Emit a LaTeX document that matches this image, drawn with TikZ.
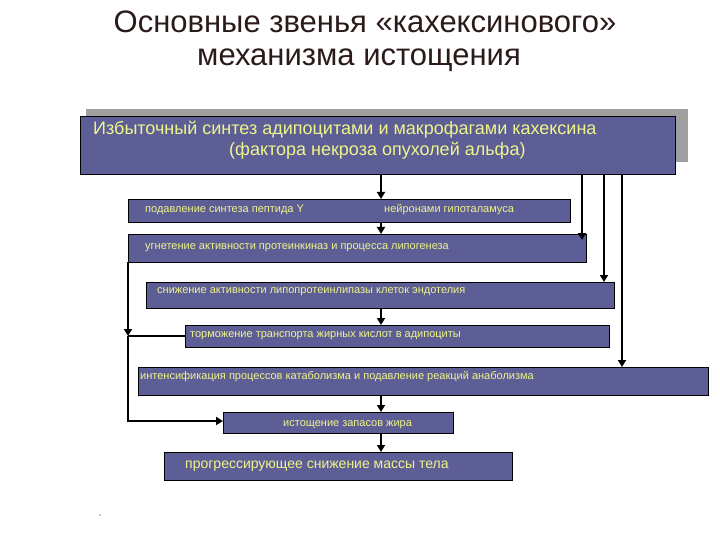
\documentclass[tikz,border=0pt]{standalone}
\usepackage{fontspec}
\setmainfont{Liberation Sans}
\usetikzlibrary{arrows.meta}
\definecolor{boxc}{HTML}{5E5E96}
\definecolor{txt}{HTML}{EEF58A}
\definecolor{ttl}{HTML}{2A1A1A}
\begin{document}
\begin{tikzpicture}[x=1pt,y=-1pt,
  bx/.style={draw=black,line width=0.8pt,fill=boxc},
  lbl/.style={text=txt,anchor=west,inner sep=0pt},
  ar/.style={line width=2.5pt,-{Triangle[length=7pt,width=8pt]}},
  ln/.style={line width=2.5pt}]
\useasboundingbox (0,0) rectangle (720,540);
\node[text=ttl,font=\fontsize{31}{36}\selectfont] (t1) at (365,22) {Основные звенья «кахексинового»};
\node[text=ttl,font=\fontsize{31}{36}\selectfont] (t2) at (359,60) {механизма истощения};
\fill[gray!75] (86,109) rectangle (688,162);
\draw[bx] (80,116) rectangle (675,174);
\node[lbl,font=\fontsize{18}{21}\selectfont] (b0a) at (93,130) {Избыточный синтез адипоцитами и макрофагами кахексина};
\node[lbl,font=\fontsize{18}{21}\selectfont] (b0b) at (229,151) {(фактора некроза опухолей альфа)};
\draw[bx] (128,199) rectangle (570,222);
\node[lbl,font=\fontsize{11}{13}\selectfont] (b1a) at (145,210) {подавление синтеза пептида Y};
\node[lbl,font=\fontsize{11}{13}\selectfont] (b1b) at (384,210) {нейронами гипоталамуса};
\draw[bx] (128,234) rectangle (586,262);
\node[lbl,font=\fontsize{11}{13}\selectfont] (b2) at (145,248) {угнетение активности протеинкиназ и процесса липогенеза};
\draw[bx] (146,282) rectangle (614,308);
\node[lbl,font=\fontsize{11}{13}\selectfont] (b3) at (157,292) {снижение активности липопротеинлипазы клеток эндотелия};
\draw[bx] (185,325) rectangle (609,347);
\node[lbl,font=\fontsize{11}{13}\selectfont] (b4) at (190,336) {торможение транспорта жирных кислот в адипоциты};
\draw[bx] (138,367) rectangle (708,395);
\node[lbl,font=\fontsize{11}{13}\selectfont] (b5) at (140,377) {интенсификация процессов катаболизма и подавление реакций анаболизма};
\draw[bx] (223,412) rectangle (453,433);
\node[lbl,font=\fontsize{11}{13}\selectfont] (b6) at (283,425) {истощение запасов жира};
\draw[bx] (164,452) rectangle (512,480);
\node[lbl,font=\fontsize{14}{17}\selectfont] (b7) at (185,466) {прогрессирующее снижение массы тела};
\coordinate (dot) at (100,515);
\fill (dot) circle (0.7pt);
% arrows
\draw[ar] (381,174) -- (381,199);
\draw[ar] (381,222) -- (381,234);
\draw[ar] (582,174) -- (582,240);
\draw[ar] (604,174) -- (604,282);
\draw[ar] (622,174) -- (622,367);
\draw[ar] (381,308) -- (381,325);
\draw[ar] (381,395) -- (381,412);
\draw[ar] (381,433) -- (381,452);
\draw[ar] (128,262) -- (128,336);
\draw[ln] (185,336) -- (128,336);
\draw[ar] (128,336) -- (128,421) -- (223,421);
\end{tikzpicture}
\end{document}
